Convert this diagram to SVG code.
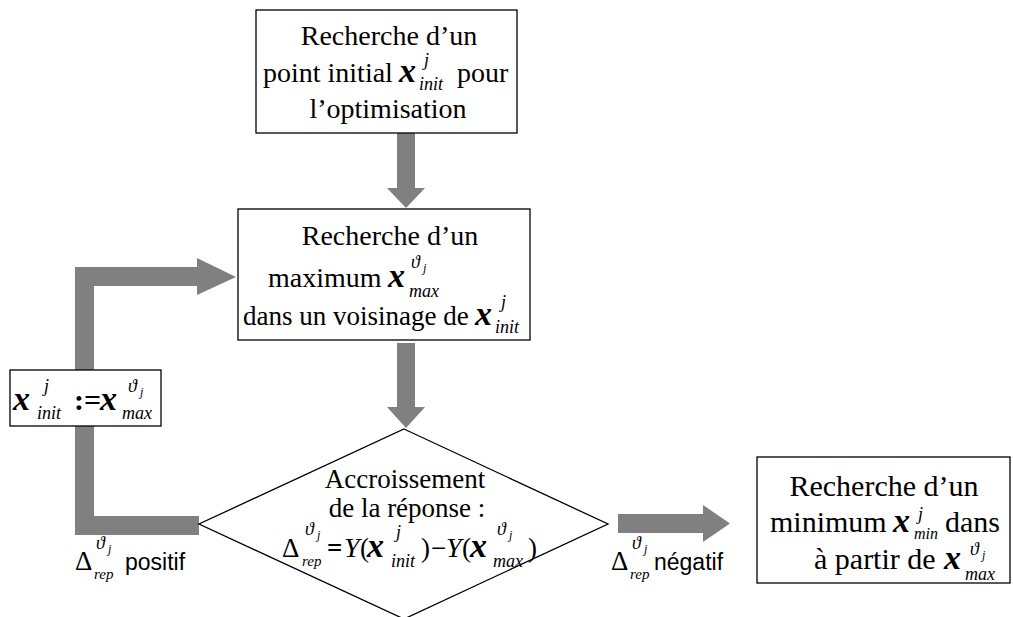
<svg xmlns="http://www.w3.org/2000/svg" width="1013" height="617" viewBox="0 0 1013 617">
<style>
.box{fill:#fff;stroke:#000;stroke-width:1.3}
.arr{fill:#808080;stroke:none}
.t{font-family:"Liberation Serif",serif;font-size:28px;fill:#000}
.t30{font-family:"Liberation Serif",serif;font-size:30px;fill:#000}
.d{font-family:"Liberation Serif",serif;font-size:27px;fill:#000}
.mx{font-family:"Liberation Serif",serif;font-size:34px;font-style:italic;font-weight:bold;fill:#000}
.sb{font-family:"Liberation Serif",serif;font-size:18px;font-style:italic;fill:#000}
.sj{font-family:"Liberation Serif",serif;font-size:12px;font-style:italic;fill:#000}
.it{font-family:"Liberation Serif",serif;font-size:28px;font-style:italic;fill:#000}
.lab{font-family:"Liberation Sans",sans-serif;font-size:23px;fill:#000}
.ls{font-family:"Liberation Serif",serif;font-size:15px;font-style:italic;fill:#000}
</style>
<rect width="1013" height="617" fill="#fff"/>
<g id="connectors">
<polygon class="arr" points="397,124 415,124 415,188 425,188 406,208 387,188 397,188"/>
<polygon class="arr" points="397,343 415,343 415,407 425,407 406,428 387,407 397,407"/>
<polygon class="arr" points="75,535 199,535 199,516 94,516 94,286 197,286 197,295 236,277 197,258 197,267 75,267"/>
<polygon class="arr" points="618,514 703,514 703,505 730,523.5 703,542 703,533 618,533"/>
</g>
<g id="n1">
<rect class="box" x="256" y="10" width="261" height="123"/>
<text class="t" x="389" y="45" text-anchor="middle">Recherche d’un</text>
<text class="t" x="263" y="82">point initial</text>
<text class="mx" x="399" y="82">x</text>
<text class="sb" x="424" y="66">j</text>
<text class="sb" x="419" y="90">init</text>
<text class="t" x="457" y="82">pour</text>
<text class="t" x="388" y="118" text-anchor="middle">l’optimisation</text>
</g>
<g id="n2">
<rect class="box" x="238" y="209" width="292" height="131"/>
<text class="t" x="390" y="245" text-anchor="middle">Recherche d’un</text>
<text class="t" x="268" y="287">maximum</text>
<text class="mx" x="388" y="287">x</text>
<text class="sb" x="411" y="268">ϑ</text>
<text class="sj" x="423" y="272">j</text>
<text class="sb" x="409" y="297">max</text>
<text class="t" x="243" y="325" style="font-size:27px">dans un voisinage de</text>
<text class="mx" x="475" y="325">x</text>
<text class="sb" x="501" y="308">j</text>
<text class="sb" x="495" y="333">init</text>
</g>
<g id="n3">
<rect class="box" x="10" y="370" width="151" height="56"/>
<text class="mx" x="13" y="410">x</text>
<text class="sb" x="44" y="392">j</text>
<text class="sb" x="37" y="419">init</text>
<text class="t30" x="74" y="410" font-weight="bold">:=</text>
<text class="mx" x="100" y="410">x</text>
<text class="sb" x="128" y="392">ϑ</text>
<text class="sj" x="140" y="396">j</text>
<text class="sb" x="122" y="419">max</text>
</g>
<g id="n4">
<polygon class="box" points="404,429 608,524 404,619 199,524"/>
<text class="d" x="405" y="488" text-anchor="middle">Accroissement</text>
<text class="d" x="407" y="517" text-anchor="middle">de la réponse :</text>
<text class="d" x="282" y="557">Δ</text>
<text class="sb" x="305" y="535">ϑ</text>
<text class="sj" x="317" y="539">j</text>
<text class="ls" x="302" y="566">rep</text>
<text class="d" x="327" y="557" font-weight="bold">=</text>
<text class="it" x="344" y="557">Y</text>
<text class="d" x="360" y="557">(</text>
<text class="mx" x="367" y="557">x</text>
<text class="sb" x="396" y="538">j</text>
<text class="sb" x="391" y="567">init</text>
<text class="d" x="421" y="557">)</text>
<text class="d" x="431" y="557">−</text>
<text class="it" x="446" y="557">Y</text>
<text class="d" x="462" y="557">(</text>
<text class="mx" x="470" y="557">x</text>
<text class="sb" x="497" y="535">ϑ</text>
<text class="sj" x="509" y="539">j</text>
<text class="sb" x="493" y="567">max</text>
<text class="d" x="528" y="557">)</text>
</g>
<g id="n5">
<rect class="box" x="757" y="457" width="253" height="126"/>
<text class="t30" x="884" y="496" text-anchor="middle">Recherche d’un</text>
<text class="t30" x="770" y="532">minimum</text>
<text class="mx" x="893" y="532">x</text>
<text class="sb" x="918" y="520">j</text>
<text class="sb" x="914" y="539" style="font-size:16px">min</text>
<text class="t30" x="945" y="532">dans</text>
<text class="t30" x="814" y="569">à partir de</text>
<text class="mx" x="944" y="569">x</text>
<text class="sb" x="970" y="555">ϑ</text>
<text class="sj" x="982" y="559">j</text>
<text class="sb" x="965" y="580">max</text>
</g>
<g id="labels">
<text class="d" x="75" y="570">Δ</text>
<text class="sb" x="96" y="549">ϑ</text>
<text class="sj" x="108" y="553">j</text>
<text class="ls" x="94" y="579">rep</text>
<text class="lab" x="125" y="570">positif</text>
<text class="d" x="611" y="570">Δ</text>
<text class="sb" x="632" y="549">ϑ</text>
<text class="sj" x="644" y="553">j</text>
<text class="ls" x="630" y="579">rep</text>
<text class="lab" x="654" y="570">négatif</text>
</g>
</svg>
